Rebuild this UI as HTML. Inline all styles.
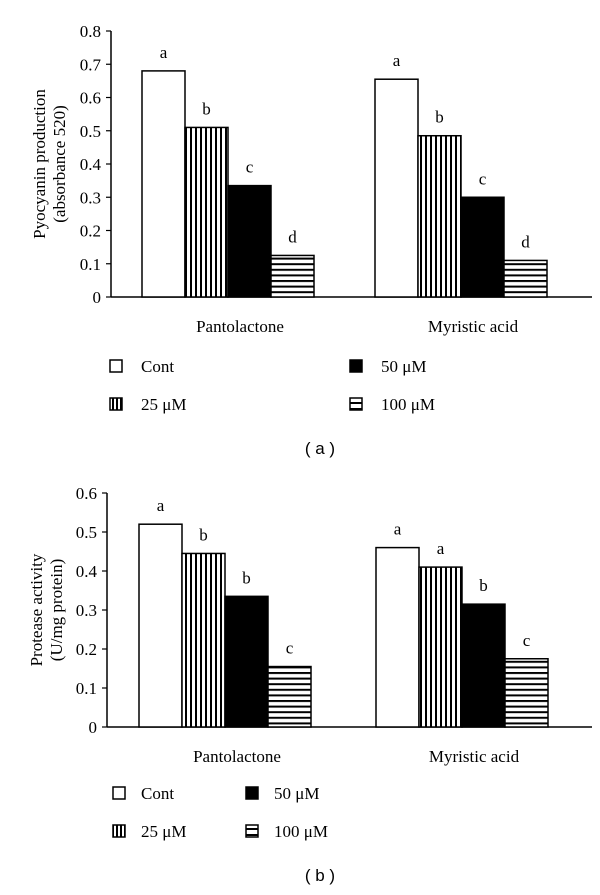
<!DOCTYPE html>
<html><head><meta charset="utf-8"><style>
body{margin:0;background:#fff;}
svg text{font-family:"Liberation Serif",serif;fill:#000;}
</style></head><body>
<svg id="s" width="600" height="890" viewBox="0 0 600 890" xmlns="http://www.w3.org/2000/svg">
<defs>
<pattern id="vstripe" patternUnits="userSpaceOnUse" width="5" height="10"><rect width="5" height="10" fill="#fff"/><rect x="0" width="2" height="10" fill="#000"/></pattern>
<pattern id="hstripe" patternUnits="userSpaceOnUse" width="10" height="5.6"><rect width="10" height="5.6" fill="#fff"/><rect y="0" width="10" height="2" fill="#000"/></pattern>
<pattern id="vstripeL" patternUnits="userSpaceOnUse" width="4" height="10"><rect width="4" height="10" fill="#fff"/><rect x="0" width="2" height="10" fill="#000"/></pattern>
<pattern id="hstripeL" patternUnits="userSpaceOnUse" width="10" height="6"><rect width="10" height="6" fill="#fff"/><rect y="0" width="10" height="2" fill="#000"/></pattern>
</defs>
</svg>
<script>
const groups=["Pantolactone","Myristic acid"];
const seriesNames=["Cont","25 \u03bcM","50 \u03bcM","100 \u03bcM"];
const pyoPant=[0.68,0.51,0.335,0.125];
const pyoMyr=[0.655,0.485,0.30,0.11];
const pyoLetters=[["a","b","c","d"],["a","b","c","d"]];
const proPant=[0.52,0.445,0.335,0.155];
const proMyr=[0.46,0.41,0.315,0.175];
const proLetters=[["a","b","b","c"],["a","a","b","c"]];
const pyoTicks=[0,0.1,0.2,0.3,0.4,0.5,0.6,0.7,0.8];
const proTicks=[0,0.1,0.2,0.3,0.4,0.5,0.6];

const svg=document.getElementById('s');
const NS="http://www.w3.org/2000/svg";
function mk(t,a,txt){const e=document.createElementNS(NS,t);for(const k in a)e.setAttribute(k,a[k]);if(txt!==undefined)e.textContent=txt;svg.appendChild(e);return e;}
const fills=["#fff","url(#vstripe)","#000","url(#hstripe)"];
const legFills=["#fff","url(#vstripeL)","#000","url(#hstripeL)"];

function chart(o){
  const y=v=>o.y0-(v/o.max)*(o.y0-o.yTop);
  const barW=43;
  let ax=mk('line',{x1:o.ax,y1:o.yTop,x2:o.ax,y2:o.y0,stroke:'#000','stroke-width':1.5});
  
  let bx=mk('line',{x1:o.ax,y1:o.y0,x2:o.axEnd,y2:o.y0,stroke:'#000','stroke-width':1.5});
  
  o.ticks.forEach(t=>{
    let l=mk('line',{x1:o.ax-5,y1:y(t),x2:o.ax,y2:y(t),stroke:'#000','stroke-width':1.2});
    
    let tx=mk('text',{x:o.ax-10,y:y(t)+6,'text-anchor':'end','font-size':17},t===0?'0':t.toFixed(1));
    
  });
  const data=[o.a,o.b];
  data.forEach((vals,g)=>{
    vals.forEach((v,i)=>{
      const x=o.gx[g]+i*barW;
      let r=mk('rect',{x:x,y:y(v),width:barW,height:o.y0-y(v),fill:fills[i],stroke:'#000','stroke-width':1.5});
      
      let lt=mk('text',{x:x+barW/2,y:y(v)-13,'text-anchor':'middle','font-size':17},o.letters[g][i]);
      
    });
    let gl=mk('text',{x:o.gx[g]+2*barW+12,y:o.catY,'text-anchor':'middle','font-size':17},groups[g]);
    
  });
  const cy=(o.yTop+o.y0)/2;
  let t1=mk('text',{x:0,y:0,'text-anchor':'middle','font-size':17,transform:`translate(${o.tx1},${cy}) rotate(-90)`},o.t1);
  
  let t2=mk('text',{x:0,y:0,'text-anchor':'middle','font-size':17,transform:`translate(${o.tx1+20},${cy}) rotate(-90)`},o.t2);
  
  o.leg.forEach((pos,i)=>{
    let r=mk('rect',{x:pos[0],y:pos[1],width:12,height:12,fill:legFills[i],stroke:'#000','stroke-width':1.5});
    
    let t=mk('text',{x:pos[0]+o.legGap,y:pos[1]+12,'font-size':17},seriesNames[i]);
    
  });
  let pl=mk('text',{x:320,y:o.panelY,'text-anchor':'middle','font-size':17,style:'font-family:"Liberation Sans",sans-serif'},o.panel);
  
}
chart({p:'pyocyanin',ax:111,axEnd:592,y0:297,yTop:31,max:0.8,ticks:pyoTicks,a:pyoPant,b:pyoMyr,letters:pyoLetters,gx:[142,375],catY:332,
  tx1:45,t1:'Pyocyanin production',t2:'(absorbance 520)',leg:[[110,360],[110,398],[350,360],[350,398]],legGap:31,panel:'( a )',panelY:454});
chart({p:'protease',ax:107,axEnd:592,y0:727,yTop:493,max:0.6,ticks:proTicks,a:proPant,b:proMyr,letters:proLetters,gx:[139,376],catY:762,
  tx1:42,t1:'Protease activity',t2:'(U/mg protein)',leg:[[113,787],[113,825],[246,787],[246,825]],legGap:28,panel:'( b )',panelY:881});
</script>
</body></html>
